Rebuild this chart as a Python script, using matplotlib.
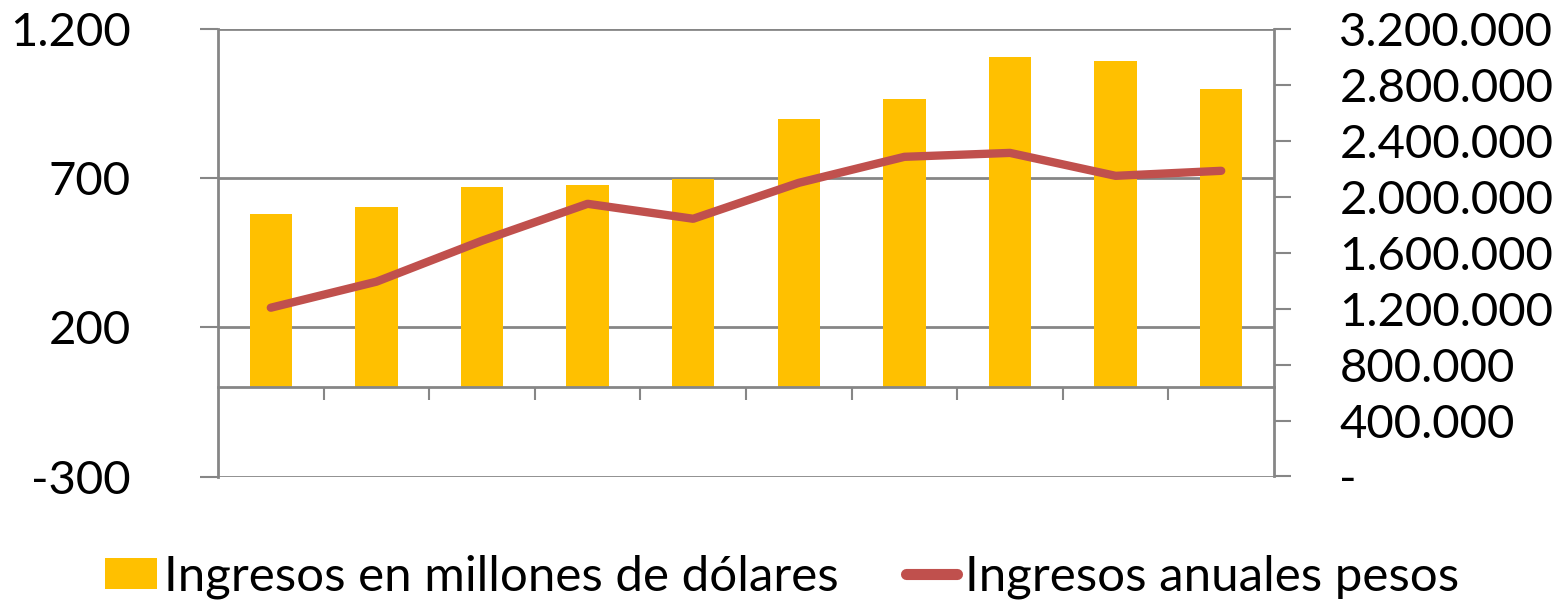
import numpy as np
import matplotlib.pyplot as plt
from matplotlib.ticker import FuncFormatter
from matplotlib.lines import Line2D
from matplotlib.patches import Patch

plt.rcParams['font.family'] = ['Lato', 'DejaVu Sans']

# valeurs
categorias = list(range(10))
ingresos_dolares = [581, 604, 671, 678, 698, 899, 966, 1106, 1093, 999]
ingresos_pesos = [1207000, 1393000, 1686000, 1950000, 1843000,
                  2100000, 2286000, 2314000, 2150000, 2186000]
ticks_izq = [-300, 200, 700, 1200]
ticks_der = list(range(0, 3200001, 400000))

gris = '#868686'
amarillo = '#FFC000'
rojo = '#C0504D'
fs = 34

fig = plt.figure(figsize=(15.64, 6.01), dpi=100)
ax = fig.add_axes([218 / 1564, 1 - 476.5 / 601, (1274 - 218) / 1564, (476.5 - 29) / 601])

x = np.arange(len(categorias))
ax.bar(x, ingresos_dolares, width=0.4, color=amarillo, zorder=3)
ax.set_xlim(-0.5, len(categorias) - 0.5)
ax.set_ylim(-300, 1200)
ax.set_yticks(ticks_izq)
ax.yaxis.set_major_formatter(FuncFormatter(lambda v, p: f"{int(v):,}".replace(',', '.')))
ax.grid(axis='y', color=gris, linewidth=2, zorder=0)
ax.set_axisbelow(True)

# eje de categorías en cero
ax.spines['bottom'].set_position(('data', 0))
ax.spines['bottom'].set_color(gris)
ax.spines['bottom'].set_linewidth(2)
ax.spines['bottom'].set_zorder(4)
ax.set_xticks(np.arange(0.5, len(categorias) - 1, 1.0))
ax.set_xticklabels([])
ax.tick_params(axis='x', direction='out', length=9, width=1.5, color=gris)
ax.spines['top'].set_visible(False)
ax.spines['left'].set_color(gris)
ax.spines['left'].set_linewidth(2)
ax.spines['right'].set_visible(False)
ax.tick_params(axis='y', direction='out', length=13, width=1.5, color=gris,
               labelsize=fs, pad=50)

ax2 = ax.twinx()
ax2.plot(x, ingresos_pesos, color=rojo, linewidth=6, solid_capstyle='round',
         solid_joinstyle='round', zorder=5)
ax2.set_ylim(0, 3200000)
ax2.set_yticks(ticks_der)
ax2.yaxis.set_major_formatter(
    FuncFormatter(lambda v, p: '-' if v == 0 else f"{int(v):,}".replace(',', '.')))
ax2.tick_params(axis='y', direction='out', length=12, width=1.5, color=gris,
                labelsize=fs, pad=35)
for s in ['top', 'left', 'bottom']:
    ax2.spines[s].set_visible(False)
ax2.spines['right'].set_color(gris)
ax2.spines['right'].set_linewidth(2)

handles = [Patch(facecolor=amarillo, edgecolor='none'),
           Line2D([0], [0], color=rojo, linewidth=8, solid_capstyle='round')]
fig.legend(handles, ['Ingresos en millones de dólares', 'Ingresos anuales pesos'],
           loc='center', bbox_to_anchor=(0.5, 0.04), ncol=2, frameon=False,
           fontsize=35.5, handlelength=1.05, handleheight=0.6,
           handletextpad=0.15, columnspacing=1.35)

fig.savefig('out.png', dpi=100)
